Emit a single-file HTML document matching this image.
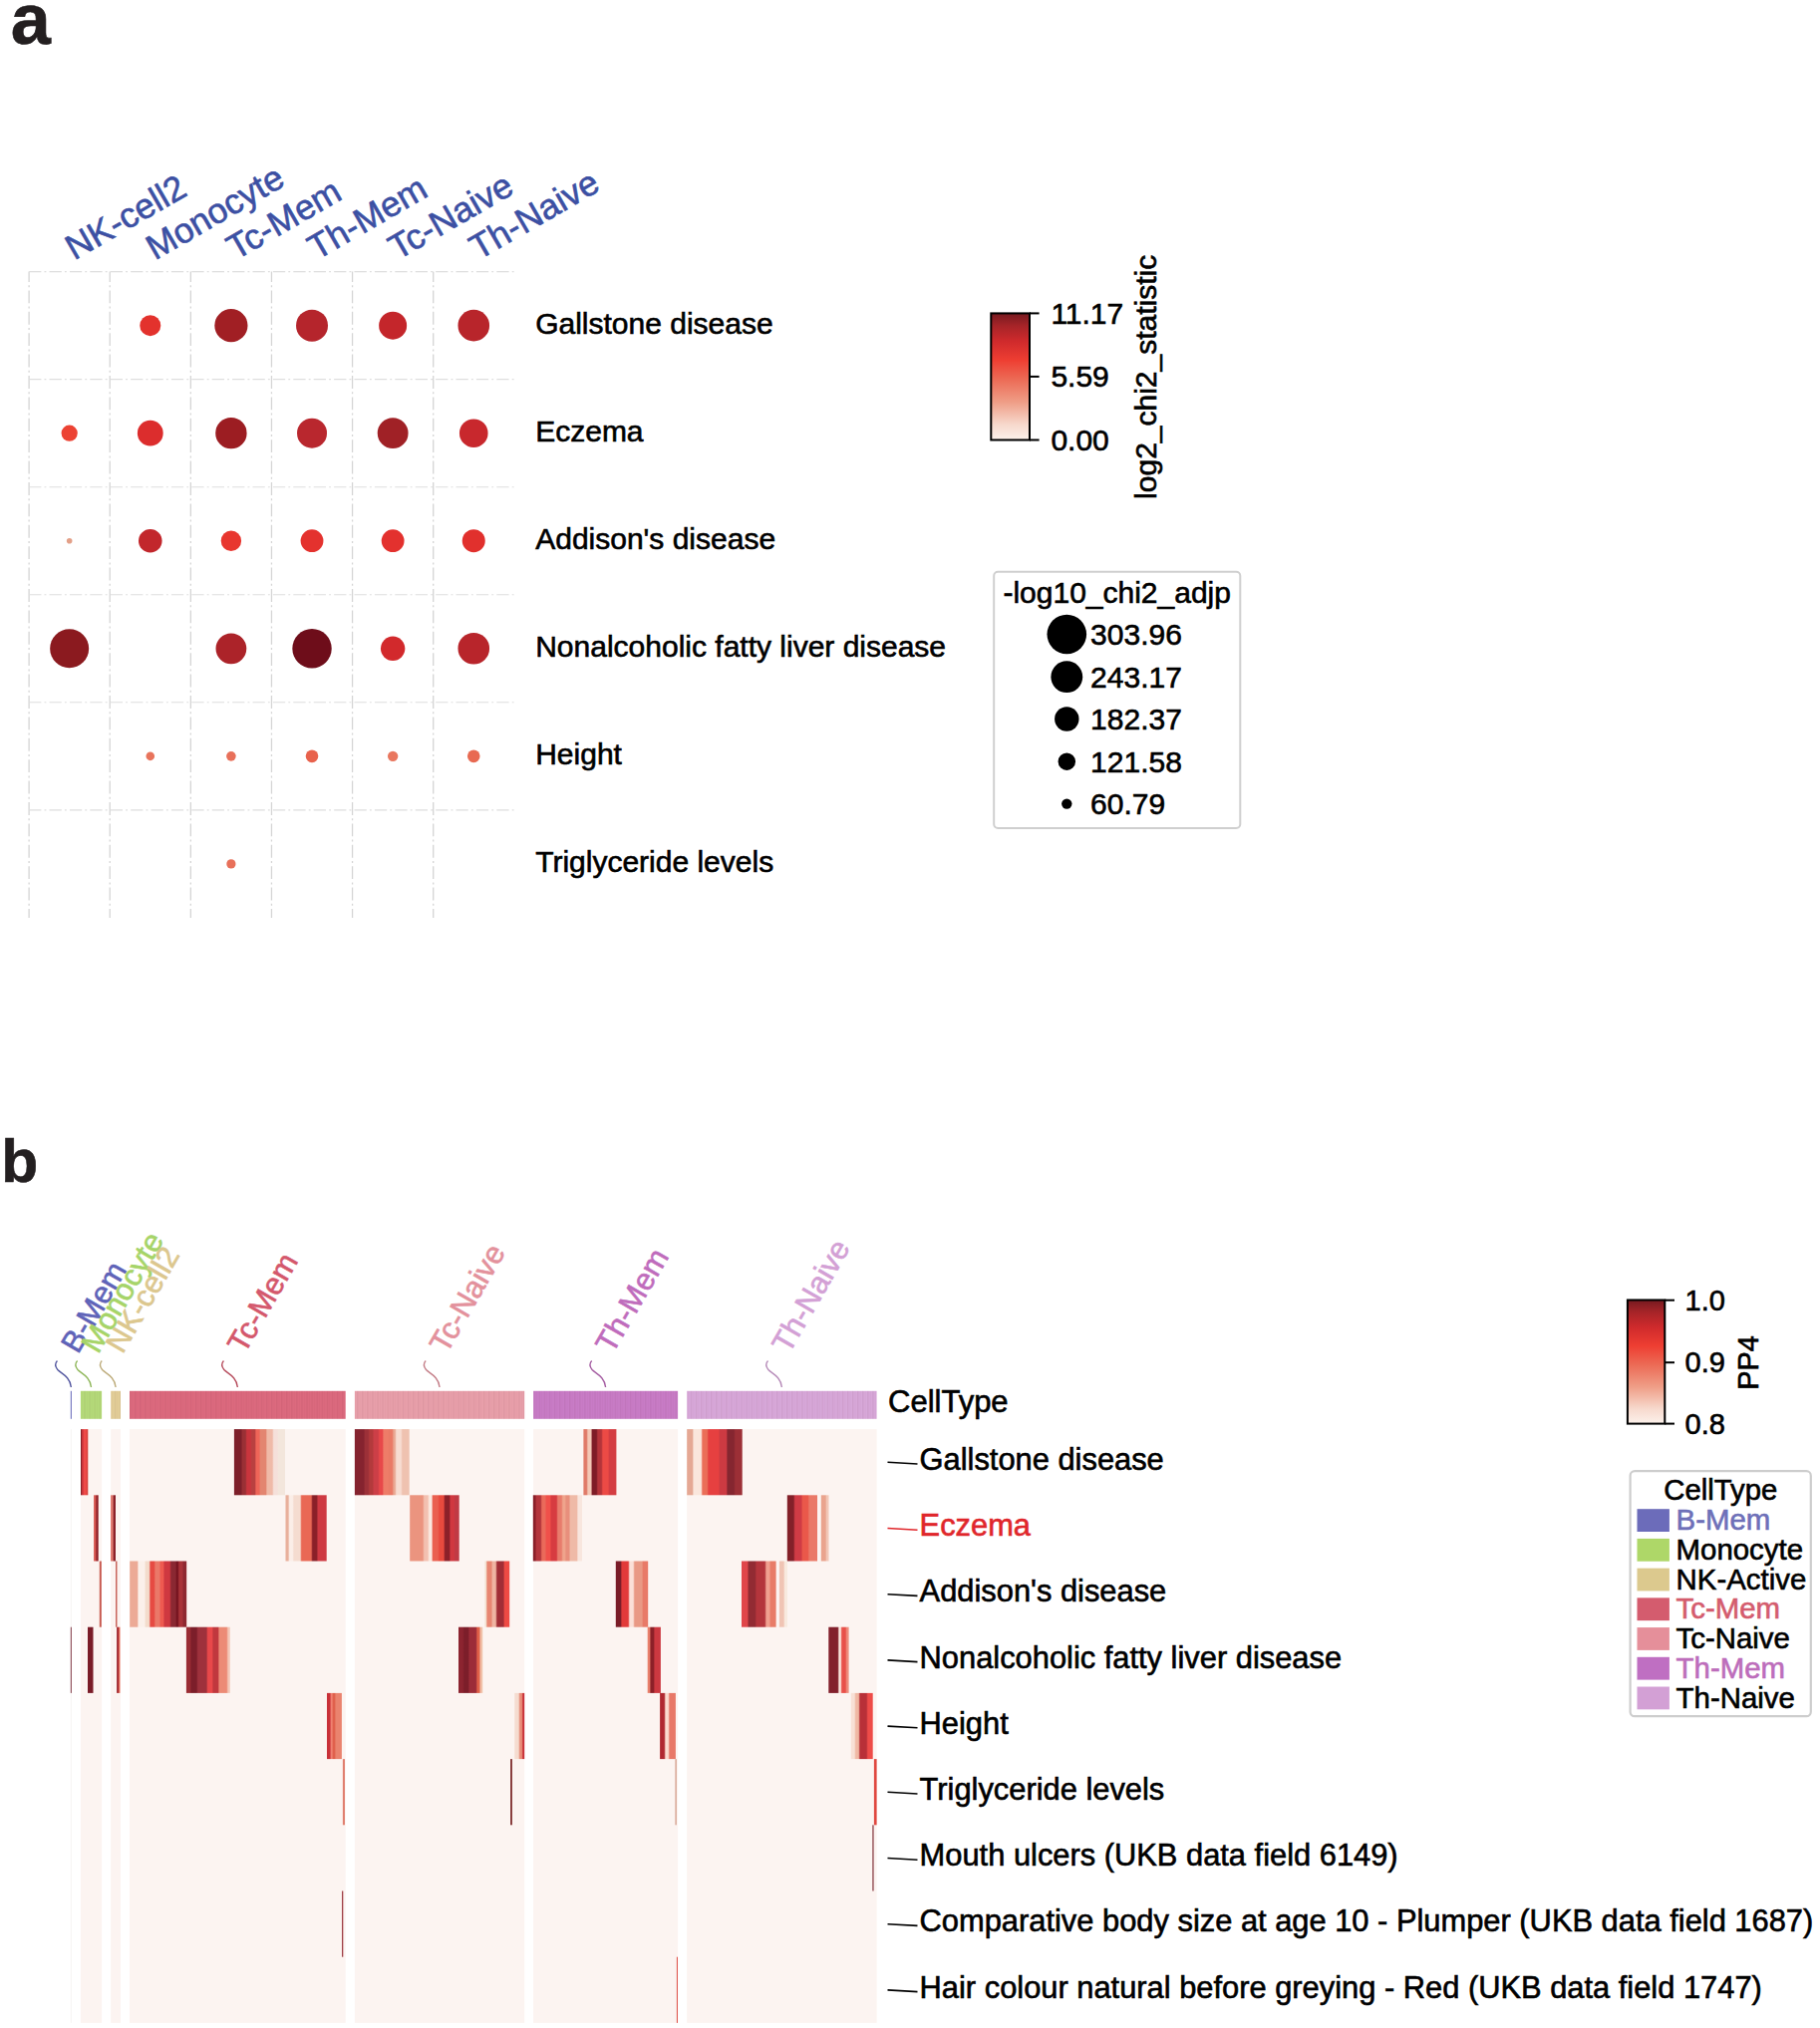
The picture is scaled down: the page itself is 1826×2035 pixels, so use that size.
<!DOCTYPE html>
<html lang="en"><head><meta charset="utf-8"><title>Figure</title>
<style>html,body{margin:0;padding:0;background:#fff;}svg{display:block;}text{font-family:"Liberation Sans", Arial, Helvetica, sans-serif;stroke-width:0.6px;paint-order:stroke fill;}</style></head><body>
<svg width="1826" height="2035" viewBox="0 0 1826 2035">
<defs>
<linearGradient id="cbar" x1="0" y1="1" x2="0" y2="0"><stop offset="0" stop-color="#fcf1eb"/><stop offset="0.12" stop-color="#f7d9cd"/><stop offset="0.30" stop-color="#ef9d86"/><stop offset="0.48" stop-color="#ec6a55"/><stop offset="0.63" stop-color="#ee3e32"/><stop offset="0.78" stop-color="#cf2a2c"/><stop offset="0.90" stop-color="#a72428"/><stop offset="1" stop-color="#761a20"/></linearGradient>
<pattern id="cells" patternUnits="userSpaceOnUse" x="130" y="0" width="5.07" height="40"><rect x="0" y="0" width="1.3" height="40" fill="#5a1030" fill-opacity="0.07"/><rect x="2.5" y="0" width="1.0" height="40" fill="#5a1030" fill-opacity="0.03"/></pattern>
</defs>
<rect x="0" y="0" width="1826" height="2035" fill="#ffffff"/>
<text x="10.7" y="44" font-size="72" fill="#231f20" stroke="#231f20" font-weight="bold">a</text>
<g stroke="#d5d5d5" stroke-width="1.3" fill="none" stroke-dasharray="12.9 3.3 2 3.2" stroke-dashoffset="2.6">
<line x1="29.1" y1="272.6" x2="29.1" y2="920.9"/>
<line x1="110.22" y1="272.6" x2="110.22" y2="920.9"/>
<line x1="191.34" y1="272.6" x2="191.34" y2="920.9"/>
<line x1="272.46" y1="272.6" x2="272.46" y2="920.9"/>
<line x1="353.58" y1="272.6" x2="353.58" y2="920.9"/>
<line x1="434.7" y1="272.6" x2="434.7" y2="920.9"/>
</g>
<g stroke="#dedede" stroke-width="1.1" fill="none" stroke-dasharray="12.3 3.1 1.9 3.1">
<line x1="29.1" y1="272.6" x2="515.82" y2="272.6"/>
<line x1="29.1" y1="380.65" x2="515.82" y2="380.65"/>
<line x1="29.1" y1="488.7" x2="515.82" y2="488.7"/>
<line x1="29.1" y1="596.75" x2="515.82" y2="596.75"/>
<line x1="29.1" y1="704.8" x2="515.82" y2="704.8"/>
<line x1="29.1" y1="812.85" x2="515.82" y2="812.85"/>
</g>
<text x="74.4" y="261.6" font-size="35.2" fill="#3c50a3" stroke="#3c50a3" transform="rotate(-30 74.4 261.6)">NK-cell2</text>
<text x="155.52" y="261.6" font-size="35.2" fill="#3c50a3" stroke="#3c50a3" transform="rotate(-30 155.52 261.6)">Monocyte</text>
<text x="236.64" y="261.6" font-size="35.2" fill="#3c50a3" stroke="#3c50a3" transform="rotate(-30 236.64 261.6)">Tc-Mem</text>
<text x="317.76" y="261.6" font-size="35.2" fill="#3c50a3" stroke="#3c50a3" transform="rotate(-30 317.76 261.6)">Th-Mem</text>
<text x="398.88" y="261.6" font-size="35.2" fill="#3c50a3" stroke="#3c50a3" transform="rotate(-30 398.88 261.6)">Tc-Naive</text>
<text x="480" y="261.6" font-size="35.2" fill="#3c50a3" stroke="#3c50a3" transform="rotate(-30 480 261.6)">Th-Naive</text>
<circle cx="150.78" cy="326.625" r="10.5" fill="#e3322d"/>
<circle cx="231.9" cy="326.625" r="16.6" fill="#a11f24"/>
<circle cx="313.02" cy="326.625" r="16" fill="#b5252c"/>
<circle cx="394.14" cy="326.625" r="14" fill="#c4262b"/>
<circle cx="475.26" cy="326.625" r="15.8" fill="#b8252b"/>
<circle cx="69.66" cy="434.675" r="8.1" fill="#ec4233"/>
<circle cx="150.78" cy="434.675" r="12.9" fill="#dc2d2d"/>
<circle cx="231.9" cy="434.675" r="15.7" fill="#9c1d22"/>
<circle cx="313.02" cy="434.675" r="15" fill="#b9272e"/>
<circle cx="394.14" cy="434.675" r="15.4" fill="#a02126"/>
<circle cx="475.26" cy="434.675" r="14.3" fill="#c8282d"/>
<circle cx="69.66" cy="542.725" r="2.8" fill="#e3a088"/>
<circle cx="150.78" cy="542.725" r="11.8" fill="#c2272c"/>
<circle cx="231.9" cy="542.725" r="10.2" fill="#e8362f"/>
<circle cx="313.02" cy="542.725" r="11.4" fill="#e4322e"/>
<circle cx="394.14" cy="542.725" r="11.4" fill="#e3312e"/>
<circle cx="475.26" cy="542.725" r="11.5" fill="#e1302d"/>
<circle cx="69.66" cy="650.775" r="19.5" fill="#8b1a1f"/>
<circle cx="231.9" cy="650.775" r="15.4" fill="#ac2329"/>
<circle cx="313.02" cy="650.775" r="19.7" fill="#6e0d1a"/>
<circle cx="394.14" cy="650.775" r="12.2" fill="#d2292c"/>
<circle cx="475.26" cy="650.775" r="15.8" fill="#b8252b"/>
<circle cx="150.78" cy="758.825" r="4.3" fill="#e8745c"/>
<circle cx="231.9" cy="758.825" r="4.8" fill="#e8705a"/>
<circle cx="313.02" cy="758.825" r="6.3" fill="#e8624c"/>
<circle cx="394.14" cy="758.825" r="5.2" fill="#e9775f"/>
<circle cx="475.26" cy="758.825" r="6.3" fill="#e86a52"/>
<circle cx="231.9" cy="866.875" r="4.6" fill="#e8705a"/>
<text x="537.2" y="334.6" font-size="30" fill="#000" stroke="#000">Gallstone disease</text>
<text x="537.2" y="442.65" font-size="30" fill="#000" stroke="#000">Eczema</text>
<text x="537.2" y="550.7" font-size="30" fill="#000" stroke="#000">Addison&#39;s disease</text>
<text x="537.2" y="658.75" font-size="30" fill="#000" stroke="#000">Nonalcoholic fatty liver disease</text>
<text x="537.2" y="766.8" font-size="30" fill="#000" stroke="#000">Height</text>
<text x="537.2" y="874.85" font-size="30" fill="#000" stroke="#000">Triglyceride levels</text>
<rect x="994.3" y="314.4" width="38.7" height="127.1" fill="url(#cbar)" stroke="#000" stroke-width="2"/>
<g stroke="#000" stroke-width="2">
<line x1="1033" y1="314.4" x2="1042.6" y2="314.4"/>
<line x1="1033" y1="377.9" x2="1042.6" y2="377.9"/>
<line x1="1033" y1="441.5" x2="1042.6" y2="441.5"/>
</g>
<text x="1054.4" y="325" font-size="30" fill="#000" stroke="#000">11.17</text>
<text x="1054.4" y="388.3" font-size="30" fill="#000" stroke="#000">5.59</text>
<text x="1054.4" y="451.8" font-size="30" fill="#000" stroke="#000">0.00</text>
<text x="1160.3" y="378.3" font-size="30" fill="#000" stroke="#000" text-anchor="middle" transform="rotate(-90 1160.3 378.3)">log2_chi2_statistic</text>
<rect x="997.2" y="573.8" width="247.1" height="257.2" rx="4" ry="4" fill="#fff" stroke="#cfcfcf" stroke-width="2"/>
<text x="1120.7" y="604.6" font-size="30" fill="#000" stroke="#000" text-anchor="middle">-log10_chi2_adjp</text>
<circle cx="1070.3" cy="636.5" r="19.8" fill="#000"/>
<text x="1094.1" y="647" font-size="30" fill="#000" stroke="#000">303.96</text>
<circle cx="1070.3" cy="679.2" r="15.9" fill="#000"/>
<text x="1094.1" y="689.7" font-size="30" fill="#000" stroke="#000">243.17</text>
<circle cx="1070.3" cy="721.5" r="12.2" fill="#000"/>
<text x="1094.1" y="732" font-size="30" fill="#000" stroke="#000">182.37</text>
<circle cx="1070.3" cy="764.2" r="8.7" fill="#000"/>
<text x="1094.1" y="774.7" font-size="30" fill="#000" stroke="#000">121.58</text>
<circle cx="1070.3" cy="806.6" r="5.2" fill="#000"/>
<text x="1094.1" y="817.1" font-size="30" fill="#000" stroke="#000">60.79</text>
<text x="1.2" y="1185.7" font-size="60.5" fill="#231f20" stroke="#231f20" font-weight="bold">b</text>
<rect x="70.8" y="1395.8" width="1.1" height="28" fill="#6f72bd"/>
<path d="M57.45,1365.5 c-1.9,2 -2.4,5.5 0.4,9 c3,3.5 12.5,6.5 13.5,17.5" fill="none" stroke="#51559e" stroke-width="1.35"/>
<text x="78.35" y="1359.5" font-size="30.7" fill="#5f63b8" stroke="#5f63b8" transform="rotate(-60 78.35 1359.5)">B-Mem</text>
<rect x="80.9" y="1395.8" width="21.2" height="28" fill="#b4db79"/>
<rect x="80.9" y="1395.8" width="21.2" height="28" fill="url(#cells)"/>
<path d="M77.6,1365.5 c-1.9,2 -2.4,5.5 0.4,9 c3,3.5 12.5,6.5 13.5,17.5" fill="none" stroke="#8eb659" stroke-width="1.35"/>
<text x="98.5" y="1359.5" font-size="30.7" fill="#a6d468" stroke="#a6d468" transform="rotate(-60 98.5 1359.5)">Monocyte</text>
<rect x="111.2" y="1395.8" width="9.8" height="28" fill="#e2ce97"/>
<rect x="111.2" y="1395.8" width="9.8" height="28" fill="url(#cells)"/>
<path d="M102.2,1365.5 c-1.9,2 -2.4,5.5 0.4,9 c3,3.5 12.5,6.5 13.5,17.5" fill="none" stroke="#bdab7a" stroke-width="1.35"/>
<text x="123.1" y="1359.5" font-size="30.7" fill="#dcc78e" stroke="#dcc78e" transform="rotate(-60 123.1 1359.5)">NK-cell2</text>
<rect x="130" y="1395.8" width="216.7" height="28" fill="#dc6a7e"/>
<rect x="130" y="1395.8" width="216.7" height="28" fill="url(#cells)"/>
<path d="M224.45,1365.5 c-1.9,2 -2.4,5.5 0.4,9 c3,3.5 12.5,6.5 13.5,17.5" fill="none" stroke="#b64b5c" stroke-width="1.35"/>
<text x="245.35" y="1359.5" font-size="30.7" fill="#d4586c" stroke="#d4586c" transform="rotate(-60 245.35 1359.5)">Tc-Mem</text>
<rect x="355.9" y="1395.8" width="170.3" height="28" fill="#e8a0aa"/>
<rect x="355.9" y="1395.8" width="170.3" height="28" fill="url(#cells)"/>
<path d="M427.15,1365.5 c-1.9,2 -2.4,5.5 0.4,9 c3,3.5 12.5,6.5 13.5,17.5" fill="none" stroke="#c37c86" stroke-width="1.35"/>
<text x="448.05" y="1359.5" font-size="30.7" fill="#e3919c" stroke="#e3919c" transform="rotate(-60 448.05 1359.5)">Tc-Naive</text>
<rect x="535.1" y="1395.8" width="145" height="28" fill="#c87cc6"/>
<rect x="535.1" y="1395.8" width="145" height="28" fill="url(#cells)"/>
<path d="M593.7,1365.5 c-1.9,2 -2.4,5.5 0.4,9 c3,3.5 12.5,6.5 13.5,17.5" fill="none" stroke="#a45ca1" stroke-width="1.35"/>
<text x="614.6" y="1359.5" font-size="30.7" fill="#bf6cbc" stroke="#bf6cbc" transform="rotate(-60 614.6 1359.5)">Th-Mem</text>
<rect x="689.2" y="1395.8" width="190.4" height="28" fill="#d7a8d9"/>
<rect x="689.2" y="1395.8" width="190.4" height="28" fill="url(#cells)"/>
<path d="M770.5,1365.5 c-1.9,2 -2.4,5.5 0.4,9 c3,3.5 12.5,6.5 13.5,17.5" fill="none" stroke="#b589b7" stroke-width="1.35"/>
<text x="791.4" y="1359.5" font-size="30.7" fill="#d3a0d5" stroke="#d3a0d5" transform="rotate(-60 791.4 1359.5)">Th-Naive</text>
<rect x="70.8" y="1434.1" width="1.1" height="595.8" fill="#f7f5f4"/>
<rect x="80.9" y="1434.1" width="21.2" height="595.8" fill="#fcf4f1"/>
<rect x="111.2" y="1434.1" width="9.8" height="595.8" fill="#fcf4f1"/>
<rect x="130" y="1434.1" width="216.7" height="595.8" fill="#fcf4f1"/>
<rect x="355.9" y="1434.1" width="170.3" height="595.8" fill="#fcf4f1"/>
<rect x="535.1" y="1434.1" width="145" height="595.8" fill="#fcf4f1"/>
<rect x="689.2" y="1434.1" width="190.4" height="595.8" fill="#fcf4f1"/>
<linearGradient id="h1" gradientUnits="userSpaceOnUse" x1="81" y1="0" x2="88.3" y2="0"><stop offset="0.0000" stop-color="#8a2328"/><stop offset="0.0959" stop-color="#8a2328"/><stop offset="0.1986" stop-color="#c9333a"/><stop offset="0.2808" stop-color="#c9333a"/><stop offset="0.4521" stop-color="#ee4a48"/><stop offset="0.7123" stop-color="#ee4a48"/><stop offset="0.8753" stop-color="#d9403c"/><stop offset="1.0000" stop-color="#d9403c"/></linearGradient>
<rect x="81" y="1434.1" width="7.3" height="66.2" fill="url(#h1)"/>
<linearGradient id="h2" gradientUnits="userSpaceOnUse" x1="234.9" y1="0" x2="286" y2="0"><stop offset="0.0000" stop-color="#7d1f2a"/><stop offset="0.1350" stop-color="#7d1f2a"/><stop offset="0.1663" stop-color="#9a3035"/><stop offset="0.2211" stop-color="#9a3035"/><stop offset="0.2524" stop-color="#c9353d"/><stop offset="0.3170" stop-color="#c9353d"/><stop offset="0.3483" stop-color="#b94040"/><stop offset="0.4031" stop-color="#b94040"/><stop offset="0.4344" stop-color="#ee6558"/><stop offset="0.4892" stop-color="#ee6558"/><stop offset="0.5205" stop-color="#e38570"/><stop offset="0.6184" stop-color="#e38570"/><stop offset="0.6497" stop-color="#efbaa8"/><stop offset="0.7476" stop-color="#efbaa8"/><stop offset="0.7789" stop-color="#f5e0da"/><stop offset="0.8434" stop-color="#f5e0da"/><stop offset="0.8748" stop-color="#f3e6dc"/><stop offset="1.0000" stop-color="#f3e6dc"/></linearGradient>
<rect x="234.9" y="1434.1" width="51.1" height="66.2" fill="url(#h2)"/>
<linearGradient id="h3" gradientUnits="userSpaceOnUse" x1="355.9" y1="0" x2="410.7" y2="0"><stop offset="0.0000" stop-color="#85232f"/><stop offset="0.1642" stop-color="#85232f"/><stop offset="0.1934" stop-color="#9c3038"/><stop offset="0.2445" stop-color="#9c3038"/><stop offset="0.2737" stop-color="#b33a3c"/><stop offset="0.3248" stop-color="#b33a3c"/><stop offset="0.3540" stop-color="#cc3f47"/><stop offset="0.4252" stop-color="#cc3f47"/><stop offset="0.4544" stop-color="#e8484a"/><stop offset="0.5036" stop-color="#e8484a"/><stop offset="0.5328" stop-color="#ee7c68"/><stop offset="0.6040" stop-color="#ee7c68"/><stop offset="0.6332" stop-color="#ea7a66"/><stop offset="0.6843" stop-color="#ea7a66"/><stop offset="0.7135" stop-color="#e9a791"/><stop offset="0.7354" stop-color="#e9a791"/><stop offset="0.7646" stop-color="#f7ddd2"/><stop offset="0.8449" stop-color="#f7ddd2"/><stop offset="0.8741" stop-color="#efc2b0"/><stop offset="1.0000" stop-color="#efc2b0"/></linearGradient>
<rect x="355.9" y="1434.1" width="54.8" height="66.2" fill="url(#h3)"/>
<linearGradient id="h4" gradientUnits="userSpaceOnUse" x1="585.4" y1="0" x2="618.4" y2="0"><stop offset="0.0000" stop-color="#e07a68"/><stop offset="0.0909" stop-color="#e07a68"/><stop offset="0.1394" stop-color="#f3c8b6"/><stop offset="0.2242" stop-color="#f3c8b6"/><stop offset="0.2727" stop-color="#7e1c27"/><stop offset="0.3909" stop-color="#7e1c27"/><stop offset="0.4394" stop-color="#b4343a"/><stop offset="0.5424" stop-color="#b4343a"/><stop offset="0.5909" stop-color="#ec4a45"/><stop offset="0.7424" stop-color="#ec4a45"/><stop offset="0.7909" stop-color="#d43d42"/><stop offset="1.0000" stop-color="#d43d42"/></linearGradient>
<rect x="585.4" y="1434.1" width="33" height="66.2" fill="url(#h4)"/>
<linearGradient id="h5" gradientUnits="userSpaceOnUse" x1="689.2" y1="0" x2="744.7" y2="0"><stop offset="0.0000" stop-color="#e5a894"/><stop offset="0.0955" stop-color="#e5a894"/><stop offset="0.1243" stop-color="#fae6dc"/><stop offset="0.2541" stop-color="#fae6dc"/><stop offset="0.2829" stop-color="#ea6e58"/><stop offset="0.3622" stop-color="#ea6e58"/><stop offset="0.3910" stop-color="#e64040"/><stop offset="0.5694" stop-color="#e64040"/><stop offset="0.5982" stop-color="#cc3a42"/><stop offset="0.7081" stop-color="#cc3a42"/><stop offset="0.7369" stop-color="#852630"/><stop offset="0.8468" stop-color="#852630"/><stop offset="0.8757" stop-color="#9c2f36"/><stop offset="1.0000" stop-color="#9c2f36"/></linearGradient>
<rect x="689.2" y="1434.1" width="55.5" height="66.2" fill="url(#h5)"/>
<linearGradient id="h6" gradientUnits="userSpaceOnUse" x1="94.1" y1="0" x2="98.7" y2="0"><stop offset="0.0000" stop-color="#d6564f"/><stop offset="0.3500" stop-color="#d6564f"/><stop offset="0.6500" stop-color="#8e2028"/><stop offset="1.0000" stop-color="#8e2028"/></linearGradient>
<rect x="94.1" y="1500.3" width="4.6" height="66.2" fill="url(#h6)"/>
<linearGradient id="h7" gradientUnits="userSpaceOnUse" x1="111" y1="0" x2="116" y2="0"><stop offset="0.0000" stop-color="#e07a70"/><stop offset="0.3800" stop-color="#e07a70"/><stop offset="0.6780" stop-color="#8a2029"/><stop offset="1.0000" stop-color="#8a2029"/></linearGradient>
<rect x="111" y="1500.3" width="5" height="66.2" fill="url(#h7)"/>
<linearGradient id="h8" gradientUnits="userSpaceOnUse" x1="286.5" y1="0" x2="327.7" y2="0"><stop offset="0.0000" stop-color="#e8b09c"/><stop offset="0.0607" stop-color="#e8b09c"/><stop offset="0.0995" stop-color="#fbeee8"/><stop offset="0.1675" stop-color="#fbeee8"/><stop offset="0.2063" stop-color="#f5dcd0"/><stop offset="0.3544" stop-color="#f5dcd0"/><stop offset="0.3932" stop-color="#e96855"/><stop offset="0.6214" stop-color="#e96855"/><stop offset="0.6602" stop-color="#8a2028"/><stop offset="0.7549" stop-color="#8a2028"/><stop offset="0.7937" stop-color="#ce3942"/><stop offset="1.0000" stop-color="#ce3942"/></linearGradient>
<rect x="286.5" y="1500.3" width="41.2" height="66.2" fill="url(#h8)"/>
<linearGradient id="h9" gradientUnits="userSpaceOnUse" x1="411.2" y1="0" x2="460.7" y2="0"><stop offset="0.0000" stop-color="#eb947f"/><stop offset="0.2606" stop-color="#eb947f"/><stop offset="0.2929" stop-color="#f3c0b0"/><stop offset="0.3616" stop-color="#f3c0b0"/><stop offset="0.3939" stop-color="#fbe9e0"/><stop offset="0.4384" stop-color="#fbe9e0"/><stop offset="0.4707" stop-color="#ea6050"/><stop offset="0.5657" stop-color="#ea6050"/><stop offset="0.5980" stop-color="#e84a3e"/><stop offset="0.6828" stop-color="#e84a3e"/><stop offset="0.7152" stop-color="#8c2029"/><stop offset="0.7939" stop-color="#8c2029"/><stop offset="0.8263" stop-color="#d03840"/><stop offset="0.8889" stop-color="#d03840"/><stop offset="0.9212" stop-color="#c03a44"/><stop offset="1.0000" stop-color="#c03a44"/></linearGradient>
<rect x="411.2" y="1500.3" width="49.5" height="66.2" fill="url(#h9)"/>
<linearGradient id="h10" gradientUnits="userSpaceOnUse" x1="534.8" y1="0" x2="584" y2="0"><stop offset="0.0000" stop-color="#8a2029"/><stop offset="0.0407" stop-color="#8a2029"/><stop offset="0.0732" stop-color="#b4353c"/><stop offset="0.1524" stop-color="#b4353c"/><stop offset="0.1850" stop-color="#ea6a5a"/><stop offset="0.2419" stop-color="#ea6a5a"/><stop offset="0.2744" stop-color="#f0504a"/><stop offset="0.3415" stop-color="#f0504a"/><stop offset="0.3740" stop-color="#d73b40"/><stop offset="0.4756" stop-color="#d73b40"/><stop offset="0.5081" stop-color="#e87c6c"/><stop offset="0.5772" stop-color="#e87c6c"/><stop offset="0.6098" stop-color="#efa48c"/><stop offset="0.6443" stop-color="#efa48c"/><stop offset="0.6768" stop-color="#e88f7c"/><stop offset="0.7317" stop-color="#e88f7c"/><stop offset="0.7642" stop-color="#efbaa7"/><stop offset="0.8882" stop-color="#efbaa7"/><stop offset="0.9207" stop-color="#f8e6de"/><stop offset="1.0000" stop-color="#f8e6de"/></linearGradient>
<rect x="534.8" y="1500.3" width="49.2" height="66.2" fill="url(#h10)"/>
<linearGradient id="h11" gradientUnits="userSpaceOnUse" x1="789.8" y1="0" x2="820" y2="0"><stop offset="0.0000" stop-color="#832029"/><stop offset="0.2086" stop-color="#832029"/><stop offset="0.2616" stop-color="#d03b45"/><stop offset="0.4636" stop-color="#d03b45"/><stop offset="0.5166" stop-color="#ea584a"/><stop offset="0.6821" stop-color="#ea584a"/><stop offset="0.7351" stop-color="#ea7968"/><stop offset="1.0000" stop-color="#ea7968"/></linearGradient>
<rect x="789.8" y="1500.3" width="30.2" height="66.2" fill="url(#h11)"/>
<linearGradient id="h12" gradientUnits="userSpaceOnUse" x1="823.8" y1="0" x2="831.5" y2="0"><stop offset="0.0000" stop-color="#eaa48e"/><stop offset="0.5455" stop-color="#eaa48e"/><stop offset="0.7532" stop-color="#f2c8b8"/><stop offset="1.0000" stop-color="#f2c8b8"/></linearGradient>
<rect x="823.8" y="1500.3" width="7.7" height="66.2" fill="url(#h12)"/>
<rect x="99.8" y="1566.5" width="2" height="66.2" fill="#c85a50"/>
<rect x="116" y="1566.5" width="1.5" height="66.2" fill="#c8645c"/>
<linearGradient id="h13" gradientUnits="userSpaceOnUse" x1="130.2" y1="0" x2="187.2" y2="0"><stop offset="0.0000" stop-color="#ecaa96"/><stop offset="0.1281" stop-color="#ecaa96"/><stop offset="0.1561" stop-color="#fbf0ea"/><stop offset="0.2561" stop-color="#fbf0ea"/><stop offset="0.2842" stop-color="#f3dccc"/><stop offset="0.3368" stop-color="#f3dccc"/><stop offset="0.3649" stop-color="#e64a42"/><stop offset="0.4246" stop-color="#e64a42"/><stop offset="0.4526" stop-color="#ea7868"/><stop offset="0.5175" stop-color="#ea7868"/><stop offset="0.5456" stop-color="#ee5a50"/><stop offset="0.5860" stop-color="#ee5a50"/><stop offset="0.6140" stop-color="#cf3840"/><stop offset="0.7018" stop-color="#cf3840"/><stop offset="0.7298" stop-color="#8a2832"/><stop offset="0.8035" stop-color="#8a2832"/><stop offset="0.8291" stop-color="#761420"/><stop offset="0.8446" stop-color="#761420"/><stop offset="0.8702" stop-color="#a83238"/><stop offset="0.9211" stop-color="#a83238"/><stop offset="0.9491" stop-color="#8e2830"/><stop offset="1.0000" stop-color="#8e2830"/></linearGradient>
<rect x="130.2" y="1566.5" width="57" height="66.2" fill="url(#h13)"/>
<linearGradient id="h14" gradientUnits="userSpaceOnUse" x1="486.5" y1="0" x2="511.2" y2="0"><stop offset="0.0000" stop-color="#f3e0d0"/><stop offset="0.0453" stop-color="#f3e0d0"/><stop offset="0.0972" stop-color="#e88672"/><stop offset="0.2551" stop-color="#e88672"/><stop offset="0.3198" stop-color="#efb4a2"/><stop offset="0.4332" stop-color="#efb4a2"/><stop offset="0.4980" stop-color="#a22d36"/><stop offset="0.7449" stop-color="#a22d36"/><stop offset="0.8097" stop-color="#ee4a44"/><stop offset="1.0000" stop-color="#ee4a44"/></linearGradient>
<rect x="486.5" y="1566.5" width="24.7" height="66.2" fill="url(#h14)"/>
<linearGradient id="h15" gradientUnits="userSpaceOnUse" x1="617.8" y1="0" x2="650.2" y2="0"><stop offset="0.0000" stop-color="#7a1c28"/><stop offset="0.1451" stop-color="#7a1c28"/><stop offset="0.1944" stop-color="#e23a3a"/><stop offset="0.3827" stop-color="#e23a3a"/><stop offset="0.4321" stop-color="#fbe0d8"/><stop offset="0.5370" stop-color="#fbe0d8"/><stop offset="0.5864" stop-color="#e99985"/><stop offset="0.8056" stop-color="#e99985"/><stop offset="0.8549" stop-color="#e87a68"/><stop offset="1.0000" stop-color="#e87a68"/></linearGradient>
<rect x="617.8" y="1566.5" width="32.4" height="66.2" fill="url(#h15)"/>
<linearGradient id="h16" gradientUnits="userSpaceOnUse" x1="744" y1="0" x2="778.6" y2="0"><stop offset="0.0000" stop-color="#e0464a"/><stop offset="0.1647" stop-color="#e0464a"/><stop offset="0.2110" stop-color="#922b33"/><stop offset="0.3873" stop-color="#922b33"/><stop offset="0.4335" stop-color="#b4353c"/><stop offset="0.6734" stop-color="#b4353c"/><stop offset="0.7197" stop-color="#f0a090"/><stop offset="0.8006" stop-color="#f0a090"/><stop offset="0.8468" stop-color="#e87c68"/><stop offset="1.0000" stop-color="#e87c68"/></linearGradient>
<rect x="744" y="1566.5" width="34.6" height="66.2" fill="url(#h16)"/>
<linearGradient id="h17" gradientUnits="userSpaceOnUse" x1="781.9" y1="0" x2="790" y2="0"><stop offset="0.0000" stop-color="#f0c4b4"/><stop offset="0.5062" stop-color="#f0c4b4"/><stop offset="0.7037" stop-color="#f8eadf"/><stop offset="1.0000" stop-color="#f8eadf"/></linearGradient>
<rect x="781.9" y="1566.5" width="8.1" height="66.2" fill="url(#h17)"/>
<rect x="70.8" y="1632.7" width="1.1" height="66.2" fill="#8a4a55"/>
<rect x="88" y="1632.7" width="5.5" height="66.2" fill="#7a1c28"/>
<linearGradient id="h18" gradientUnits="userSpaceOnUse" x1="117.1" y1="0" x2="120.4" y2="0"><stop offset="0.0000" stop-color="#a02830"/><stop offset="0.4030" stop-color="#a02830"/><stop offset="0.7030" stop-color="#e06050"/><stop offset="1.0000" stop-color="#e06050"/></linearGradient>
<rect x="117.1" y="1632.7" width="3.3" height="66.2" fill="url(#h18)"/>
<linearGradient id="h19" gradientUnits="userSpaceOnUse" x1="186.9" y1="0" x2="230.8" y2="0"><stop offset="0.0000" stop-color="#9a2c34"/><stop offset="0.0820" stop-color="#9a2c34"/><stop offset="0.1185" stop-color="#7c1e2a"/><stop offset="0.2323" stop-color="#7c1e2a"/><stop offset="0.2688" stop-color="#9e313c"/><stop offset="0.4579" stop-color="#9e313c"/><stop offset="0.4943" stop-color="#e8484a"/><stop offset="0.5831" stop-color="#e8484a"/><stop offset="0.6196" stop-color="#c0383e"/><stop offset="0.7198" stop-color="#c0383e"/><stop offset="0.7563" stop-color="#ec8b76"/><stop offset="0.9203" stop-color="#ec8b76"/><stop offset="0.9567" stop-color="#f3c8b8"/><stop offset="1.0000" stop-color="#f3c8b8"/></linearGradient>
<rect x="186.9" y="1632.7" width="43.9" height="66.2" fill="url(#h19)"/>
<linearGradient id="h20" gradientUnits="userSpaceOnUse" x1="460" y1="0" x2="484.2" y2="0"><stop offset="0.0000" stop-color="#8c2430"/><stop offset="0.1736" stop-color="#8c2430"/><stop offset="0.2397" stop-color="#7c1e2a"/><stop offset="0.3926" stop-color="#7c1e2a"/><stop offset="0.4587" stop-color="#9c2c38"/><stop offset="0.7190" stop-color="#9c2c38"/><stop offset="0.7851" stop-color="#e06048"/><stop offset="0.8554" stop-color="#e06048"/><stop offset="0.9215" stop-color="#f0c0a8"/><stop offset="1.0000" stop-color="#f0c0a8"/></linearGradient>
<rect x="460" y="1632.7" width="24.2" height="66.2" fill="url(#h20)"/>
<linearGradient id="h21" gradientUnits="userSpaceOnUse" x1="649.7" y1="0" x2="662.9" y2="0"><stop offset="0.0000" stop-color="#e8806c"/><stop offset="0.1379" stop-color="#e8806c"/><stop offset="0.2576" stop-color="#8c2028"/><stop offset="0.4394" stop-color="#8c2028"/><stop offset="0.5606" stop-color="#cc3840"/><stop offset="1.0000" stop-color="#cc3840"/></linearGradient>
<rect x="649.7" y="1632.7" width="13.2" height="66.2" fill="url(#h21)"/>
<linearGradient id="h22" gradientUnits="userSpaceOnUse" x1="831.3" y1="0" x2="851.6" y2="0"><stop offset="0.0000" stop-color="#82202c"/><stop offset="0.4483" stop-color="#82202c"/><stop offset="0.5271" stop-color="#fbe8e0"/><stop offset="0.5862" stop-color="#fbe8e0"/><stop offset="0.6650" stop-color="#e8504a"/><stop offset="0.8276" stop-color="#e8504a"/><stop offset="0.9064" stop-color="#ee8c7c"/><stop offset="1.0000" stop-color="#ee8c7c"/></linearGradient>
<rect x="831.3" y="1632.7" width="20.3" height="66.2" fill="url(#h22)"/>
<linearGradient id="h23" gradientUnits="userSpaceOnUse" x1="328" y1="0" x2="342.9" y2="0"><stop offset="0.0000" stop-color="#c83038"/><stop offset="0.1946" stop-color="#c83038"/><stop offset="0.2866" stop-color="#f08070"/><stop offset="0.3376" stop-color="#f08070"/><stop offset="0.4295" stop-color="#e0604c"/><stop offset="0.5034" stop-color="#e0604c"/><stop offset="0.6107" stop-color="#ea836e"/><stop offset="1.0000" stop-color="#ea836e"/></linearGradient>
<rect x="328" y="1698.9" width="14.9" height="66.2" fill="url(#h23)"/>
<linearGradient id="h24" gradientUnits="userSpaceOnUse" x1="516.3" y1="0" x2="526.2" y2="0"><stop offset="0.0000" stop-color="#f5dcd0"/><stop offset="0.3838" stop-color="#f5dcd0"/><stop offset="0.5455" stop-color="#e88c78"/><stop offset="0.7172" stop-color="#e88c78"/><stop offset="0.8586" stop-color="#c83038"/><stop offset="1.0000" stop-color="#c83038"/></linearGradient>
<rect x="516.3" y="1698.9" width="9.9" height="66.2" fill="url(#h24)"/>
<linearGradient id="h25" gradientUnits="userSpaceOnUse" x1="662.1" y1="0" x2="677.9" y2="0"><stop offset="0.0000" stop-color="#b02830"/><stop offset="0.2658" stop-color="#b02830"/><stop offset="0.3671" stop-color="#fbdcd0"/><stop offset="0.5190" stop-color="#fbdcd0"/><stop offset="0.6203" stop-color="#e87868"/><stop offset="1.0000" stop-color="#e87868"/></linearGradient>
<rect x="662.1" y="1698.9" width="15.8" height="66.2" fill="url(#h25)"/>
<linearGradient id="h26" gradientUnits="userSpaceOnUse" x1="853.8" y1="0" x2="875.7" y2="0"><stop offset="0.0000" stop-color="#f8e0d6"/><stop offset="0.1507" stop-color="#f8e0d6"/><stop offset="0.2237" stop-color="#f0b8a4"/><stop offset="0.3425" stop-color="#f0b8a4"/><stop offset="0.4155" stop-color="#b83038"/><stop offset="0.7032" stop-color="#b83038"/><stop offset="0.7763" stop-color="#ee4c48"/><stop offset="1.0000" stop-color="#ee4c48"/></linearGradient>
<rect x="853.8" y="1698.9" width="21.9" height="66.2" fill="url(#h26)"/>
<rect x="343.9" y="1765.1" width="2.1" height="66.2" fill="#e08070"/>
<rect x="512" y="1765.1" width="2" height="66.2" fill="#8a4040"/>
<rect x="677.3" y="1765.1" width="1.7" height="66.2" fill="#dcb0a0"/>
<rect x="876.9" y="1765.1" width="2.7" height="66.2" fill="#e04840"/>
<rect x="875.3" y="1831.3" width="1.3" height="66.2" fill="#8a4048"/>
<rect x="343" y="1897.5" width="1.3" height="66.2" fill="#a04048"/>
<rect x="678.9" y="1963.7" width="1.1" height="66.2" fill="#e05850"/>
<text x="891" y="1417.3" font-size="31" fill="#000" stroke="#000">CellType</text>
<line x1="890.5" y1="1467.3" x2="920.5" y2="1469" stroke="#000" stroke-width="1.6"/>
<text x="922.6" y="1475" font-size="30.85" fill="#000" stroke="#000">Gallstone disease</text>
<line x1="890.5" y1="1533.5" x2="920.5" y2="1535.2" stroke="#e0262b" stroke-width="1.6"/>
<text x="922.6" y="1541.2" font-size="30.85" fill="#e0262b" stroke="#e0262b">Eczema</text>
<line x1="890.5" y1="1599.7" x2="920.5" y2="1601.4" stroke="#000" stroke-width="1.6"/>
<text x="922.6" y="1607.4" font-size="30.85" fill="#000" stroke="#000">Addison&#39;s disease</text>
<line x1="890.5" y1="1665.9" x2="920.5" y2="1667.6" stroke="#000" stroke-width="1.6"/>
<text x="922.6" y="1673.6" font-size="30.85" fill="#000" stroke="#000">Nonalcoholic fatty liver disease</text>
<line x1="890.5" y1="1732.1" x2="920.5" y2="1733.8" stroke="#000" stroke-width="1.6"/>
<text x="922.6" y="1739.8" font-size="30.85" fill="#000" stroke="#000">Height</text>
<line x1="890.5" y1="1798.3" x2="920.5" y2="1800" stroke="#000" stroke-width="1.6"/>
<text x="922.6" y="1806" font-size="30.85" fill="#000" stroke="#000">Triglyceride levels</text>
<line x1="890.5" y1="1864.5" x2="920.5" y2="1866.2" stroke="#000" stroke-width="1.6"/>
<text x="922.6" y="1872.2" font-size="30.85" fill="#000" stroke="#000">Mouth ulcers (UKB data field 6149)</text>
<line x1="890.5" y1="1930.7" x2="920.5" y2="1932.4" stroke="#000" stroke-width="1.6"/>
<text x="922.6" y="1938.4" font-size="30.85" fill="#000" stroke="#000">Comparative body size at age 10 - Plumper (UKB data field 1687)</text>
<line x1="890.5" y1="1996.9" x2="920.5" y2="1998.6" stroke="#000" stroke-width="1.6"/>
<text x="922.6" y="2004.6" font-size="30.85" fill="#000" stroke="#000">Hair colour natural before greying - Red (UKB data field 1747)</text>
<rect x="1632.9" y="1304.5" width="37.4" height="124.1" fill="url(#cbar)" stroke="#000" stroke-width="2"/>
<g stroke="#000" stroke-width="2">
<line x1="1670.3" y1="1304.7" x2="1680" y2="1304.7"/>
<line x1="1670.3" y1="1367.2" x2="1680" y2="1367.2"/>
<line x1="1670.3" y1="1428.6" x2="1680" y2="1428.6"/>
</g>
<text x="1690.6" y="1315.2" font-size="29" fill="#000" stroke="#000">1.0</text>
<text x="1690.6" y="1377" font-size="29" fill="#000" stroke="#000">0.9</text>
<text x="1690.6" y="1438.9" font-size="29" fill="#000" stroke="#000">0.8</text>
<text x="1764" y="1367.4" font-size="29" fill="#000" stroke="#000" text-anchor="middle" transform="rotate(-90 1764 1367.4)">PP4</text>
<rect x="1635.6" y="1476.2" width="181.2" height="246" rx="4.5" ry="4.5" fill="#fff" stroke="#cdcdcd" stroke-width="2.2"/>
<text x="1726.3" y="1505.3" font-size="29.3" fill="#000" stroke="#000" text-anchor="middle">CellType</text>
<rect x="1642.5" y="1514.2" width="32.4" height="22.8" fill="#6c6cba"/>
<text x="1681.6" y="1535.3" font-size="29.4" fill="#6e70b8" stroke="#6e70b8">B-Mem</text>
<rect x="1642.5" y="1543.92" width="32.4" height="22.8" fill="#aed768"/>
<text x="1681.6" y="1565.02" font-size="29.4" fill="#000" stroke="#000">Monocyte</text>
<rect x="1642.5" y="1573.64" width="32.4" height="22.8" fill="#dcc98e"/>
<text x="1681.6" y="1594.74" font-size="29.4" fill="#000" stroke="#000">NK-Active</text>
<rect x="1642.5" y="1603.36" width="32.4" height="22.8" fill="#d45c6e"/>
<text x="1681.6" y="1624.46" font-size="29.4" fill="#d45c6e" stroke="#d45c6e">Tc-Mem</text>
<rect x="1642.5" y="1633.08" width="32.4" height="22.8" fill="#e58f9a"/>
<text x="1681.6" y="1654.18" font-size="29.4" fill="#000" stroke="#000">Tc-Naive</text>
<rect x="1642.5" y="1662.8" width="32.4" height="22.8" fill="#bf6fc2"/>
<text x="1681.6" y="1683.9" font-size="29.4" fill="#bd6dbb" stroke="#bd6dbb">Th-Mem</text>
<rect x="1642.5" y="1692.52" width="32.4" height="22.8" fill="#d3a0d5"/>
<text x="1681.6" y="1713.62" font-size="29.4" fill="#000" stroke="#000">Th-Naive</text>
</svg></body></html>
